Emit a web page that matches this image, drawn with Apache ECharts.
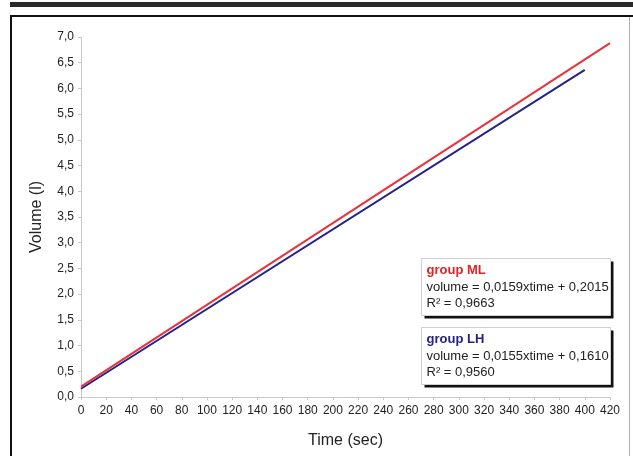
<!DOCTYPE html>
<html>
<head>
<meta charset="utf-8">
<script src="https://cdn.jsdelivr.net/npm/echarts@6/dist/echarts.min.js"></script>
<style>
  html, body { margin: 0; padding: 0; background: #fff; }
  #chart { width: 633px; height: 456px; }
</style>
</head>
<body>
<div id="chart"></div>
<script>
var myChart = echarts.init(document.getElementById('chart'));

// fitted lines, endpoints
var mlTime = [0, 420];
var mlVolume = [0.2015, 6.8795];
var lhTime = [0, 400];
var lhVolume = [0.161, 6.361];

var mlText = ['group ML', 'volume = 0,0159xtime + 0,2015', 'R² = 0,9663'];
var lhText = ['group LH', 'volume = 0,0155xtime + 0,1610', 'R² = 0,9560'];

function pairs(xs, ys) {
    return xs.map(function (x, i) { return [x, ys[i]]; });
}

function comma(v) {
    return v.toFixed(1).replace('.', ',');
}

// equation box with the black drop edge
function eqBox(top, lines, color) {
    return {
        type: 'group',
        left: 421,
        top: top,
        children: [
            { type: 'rect', shape: { x: 3, y: 3, width: 189, height: 57 }, style: { fill: '#111' } },
            { type: 'rect', shape: { x: 0, y: 0, width: 189, height: 57 }, style: { fill: '#fff', stroke: '#d0d0d0', lineWidth: 1 } },
            { type: 'text', x: 5, y: 5, style: { text: lines[0], fill: color, font: 'bold 13px "Liberation Sans", Arial, sans-serif' } },
            { type: 'text', x: 5, y: 22, style: { text: lines[1], fill: '#222', font: '13px "Liberation Sans", Arial, sans-serif' } },
            { type: 'text', x: 5, y: 38, style: { text: lines[2], fill: '#222', font: '13px "Liberation Sans", Arial, sans-serif' } }
        ]
    };
}

var option = {
    backgroundColor: '#fff',
    animation: false,
    grid: { left: 81, right: 23, top: 37, bottom: 59 },
    xAxis: {
        type: 'value',
        min: 0,
        max: 420,
        interval: 20,
        name: 'Time (sec)',
        nameLocation: 'middle',
        nameGap: 36,
        nameTextStyle: { fontSize: 16, color: '#222', fontFamily: 'Liberation Sans' },
        axisLine: { show: true, lineStyle: { color: '#c8c8c8' } },
        axisTick: { show: true, length: 3, lineStyle: { color: '#c8c8c8' } },
        axisLabel: { color: '#222', fontSize: 12, margin: 8, fontFamily: 'Liberation Sans' },
        splitLine: { show: false }
    },
    yAxis: {
        type: 'value',
        min: 0,
        max: 7,
        interval: 0.5,
        name: 'Volume (l)',
        nameLocation: 'middle',
        nameGap: 36,
        nameTextStyle: { fontSize: 16, color: '#222', fontFamily: 'Liberation Sans' },
        axisLine: { show: true, lineStyle: { color: '#c8c8c8' } },
        axisTick: { show: true, length: 3, lineStyle: { color: '#c8c8c8' } },
        axisLabel: { color: '#222', fontSize: 12, margin: 7, formatter: comma, fontFamily: 'Liberation Sans' },
        splitLine: { show: false }
    },
    series: [{
        name: 'group ML',
        type: 'line',
        data: pairs(mlTime, mlVolume),
        showSymbol: false,
        lineStyle: { color: '#e8323c', width: 2 },
        z: 3
    }, {
        name: 'group LH',
        type: 'line',
        data: pairs(lhTime, lhVolume),
        showSymbol: false,
        lineStyle: { color: '#23238a', width: 2 },
        z: 2
    }],
    graphic: [
        { type: 'rect', left: 10, top: 2, shape: { width: 623, height: 5 }, style: { fill: '#2a2a2a' } },
        { type: 'line', shape: { x1: 11, y1: 16, x2: 11, y2: 456 }, style: { stroke: '#111', lineWidth: 2 } },
        { type: 'line', shape: { x1: 10, y1: 16, x2: 633, y2: 16 }, style: { stroke: '#111', lineWidth: 2 } },
        { type: 'line', shape: { x1: 629.5, y1: 17, x2: 629.5, y2: 456 }, style: { stroke: '#b0b0b0', lineWidth: 1 } },
        eqBox(258, mlText, '#e02424'),
        eqBox(327, lhText, '#23238a')
    ]
};

myChart.setOption(option);
</script>
</body>
</html>
